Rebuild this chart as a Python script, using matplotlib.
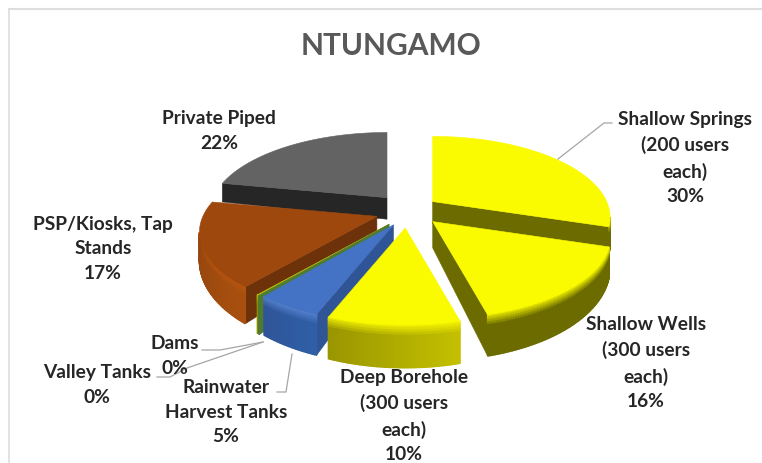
import numpy as np
import matplotlib
matplotlib.use("Agg")
import matplotlib.pyplot as plt
from matplotlib.colors import to_rgb

plt.rcParams['font.family'] = ['Lato', 'DejaVu Sans']

categories = ["Shallow Springs\n(200 users\neach)", "Shallow Wells\n(300 users\neach)",
              "Deep Borehole\n(300 users\neach)", "Rainwater\nHarvest Tanks",
              "Valley Tanks", "Dams", "PSP/Kiosks, Tap\nStands", "Private Piped"]
values = [30, 16, 10, 5, 0.12, 0.12, 17, 22]
percent_labels = ["30%", "16%", "10%", "5%", "0%", "0%", "17%", "22%"]
top_colors = ["#fafa00", "#fafa00", "#fafa00", "#4472c4", "#548235", "#c8c800", "#9e480e", "#636363"]
wall_colors = ["#6b6b00", "#6b6b00", "#9a9600", "#2f5597", "#4e7a30", "#8f8f00", "#8a3f0c", "#262626"]
rim_colors = ["#6b6b00", "#6b6b00", "#c4c000", "#2f5fa8", "#4e7a30", "#b5b500", "#a8500f", "#262626"]
bevel_colors = ["#b5b500", "#fafa00", "#fafa00", "#5a86d4", "#4e7a30", "#c8c800", "#b9560f", "#262626"]

W, H = 762, 463
CX, CY = 405, 212
RX, RY, K = 174, 78, 0.197
EX, EY = 33, 16
nudge = [(1, -1), (5, -2), (2, 0), (5, -1), (5, 0), (5, 0), (3, -1), (3, -2)]

fig = plt.figure(figsize=(W / 100, H / 100), dpi=100)
ax = fig.add_axes([0, 0, 1, 1])
ax.set_xlim(0, W)
ax.set_ylim(H, 0)
ax.axis("off")

def depth_at(v):
    return np.clip(24.0 - 15.5 * v, 18, 46)

def slice_geometry(i, a0, a1):
    mid = np.radians((a0 + a1) / 2)
    ax0 = CX + EX * np.sin(mid) + nudge[i][0]
    ay0 = CY - EY * np.cos(mid) + nudge[i][1]
    th = np.radians(np.linspace(a0, a1, max(int(a1 - a0) * 2, 3)))
    u, v = np.sin(th), np.cos(th)
    s = 1 / (1 + K * v)
    x = ax0 + RX * u * s
    y = ay0 - RY * v * s
    vglobal = v + EY / RY * np.cos(mid)
    d = depth_at(vglobal)
    d0 = depth_at(EY / RY * np.cos(mid))
    return ax0, ay0, d0, x, y, d

def area(qx, qy):
    return 0.5 * np.sum(qx * np.roll(qy, -1) - np.roll(qx, -1) * qy)

def mix(a, b, t):
    return tuple(np.array(to_rgb(a)) * (1 - t) + np.array(to_rgb(b)) * t)

def draw_slice(i, a0, a1):
    ax0, ay0, d0, x, y, d = slice_geometry(i, a0, a1)
    z = 2 + draw_rank[i]
    wall = wall_colors[i]
    inner = wall if i > 2 else "#6b6b00"
    if i == 6:
        inner = "#6e320a"
    for (px, py, pd, sign) in ((x[0], y[0], d[0], 1), (x[-1], y[-1], d[-1], -1)):
        qx = np.array([ax0, px, px, ax0])
        qy = np.array([ay0, py, py + pd, ay0 + d0])
        if sign * area(qx, qy) < 0:
            ax.fill(qx, qy, color=inner, lw=0.4, zorder=z)
    n = len(x) - 1
    fracs = [0.0, 0.06, 0.12, 0.18, 0.24, 1.0]
    for j in range(n):
        qx = np.array([x[j], x[j + 1], x[j + 1], x[j]])
        qy = np.array([y[j], y[j + 1], y[j + 1] + d[j + 1], y[j] + d[j]])
        if area(qx, qy) > 0:
            continue
        t = j / max(n - 1, 1)
        base = mix(rim_colors[i], wall, t)
        for k in range(len(fracs) - 1):
            f0, f1 = fracs[k], fracs[k + 1]
            col = mix(bevel_colors[i], base, (k + 1) / 5) if k < 4 else base
            ax.fill(qx, [qy[0] + f0 * d[j], qy[1] + f0 * d[j + 1], qy[1] + f1 * d[j + 1], qy[0] + f1 * d[j]],
                    color=col, lw=1.0, zorder=z + 0.1)
    ax.fill(np.r_[ax0, x], np.r_[ay0, y], color=top_colors[i], lw=0.4, zorder=z + 0.3)

total = sum(values)
edges = np.r_[0, np.cumsum(values)] / total * 360
draw_rank = {7: 0, 0: 1, 6: 2, 1: 3, 5: 4, 4: 5, 3: 6, 2: 7}
for i in range(len(values)):
    draw_slice(i, edges[i], edges[i + 1])

ax.plot([9, 9], [H, 9], color="#dedede", lw=1.2, zorder=1)
ax.plot([9, W], [9, 9], color="#dedede", lw=1.5, zorder=1)

ax.text(391, 46, "NTUNGAMO", ha="center", va="center", fontsize=21.5, fontweight="bold", color="#595959")

label_pos = [(685, 158), (646, 363), (404, 416), (226, 412), (97, 385), (175, 356), (103, 249), (219, 131)]
for i, (lx, ly) in enumerate(label_pos):
    txt = categories[i] + "\n" + percent_labels[i]
    ax.text(lx, ly, txt, ha="center", va="center", fontsize=13.8, fontweight="bold",
            color="#262626", linespacing=1.56, zorder=20)

leaders = [
    ([558, 604, 612], [159, 123, 123]),
    ([263, 220, 202], [342, 350, 350]),
    ([263, 187, 170, 157], [342, 368, 377, 377]),
    ([292, 286, 277], [354, 392, 392]),
]
for lx, ly in leaders:
    ax.plot(lx, ly, color="#a6a6a6", lw=0.9, zorder=15)

fig.savefig("out.png", dpi=100, facecolor="white")
